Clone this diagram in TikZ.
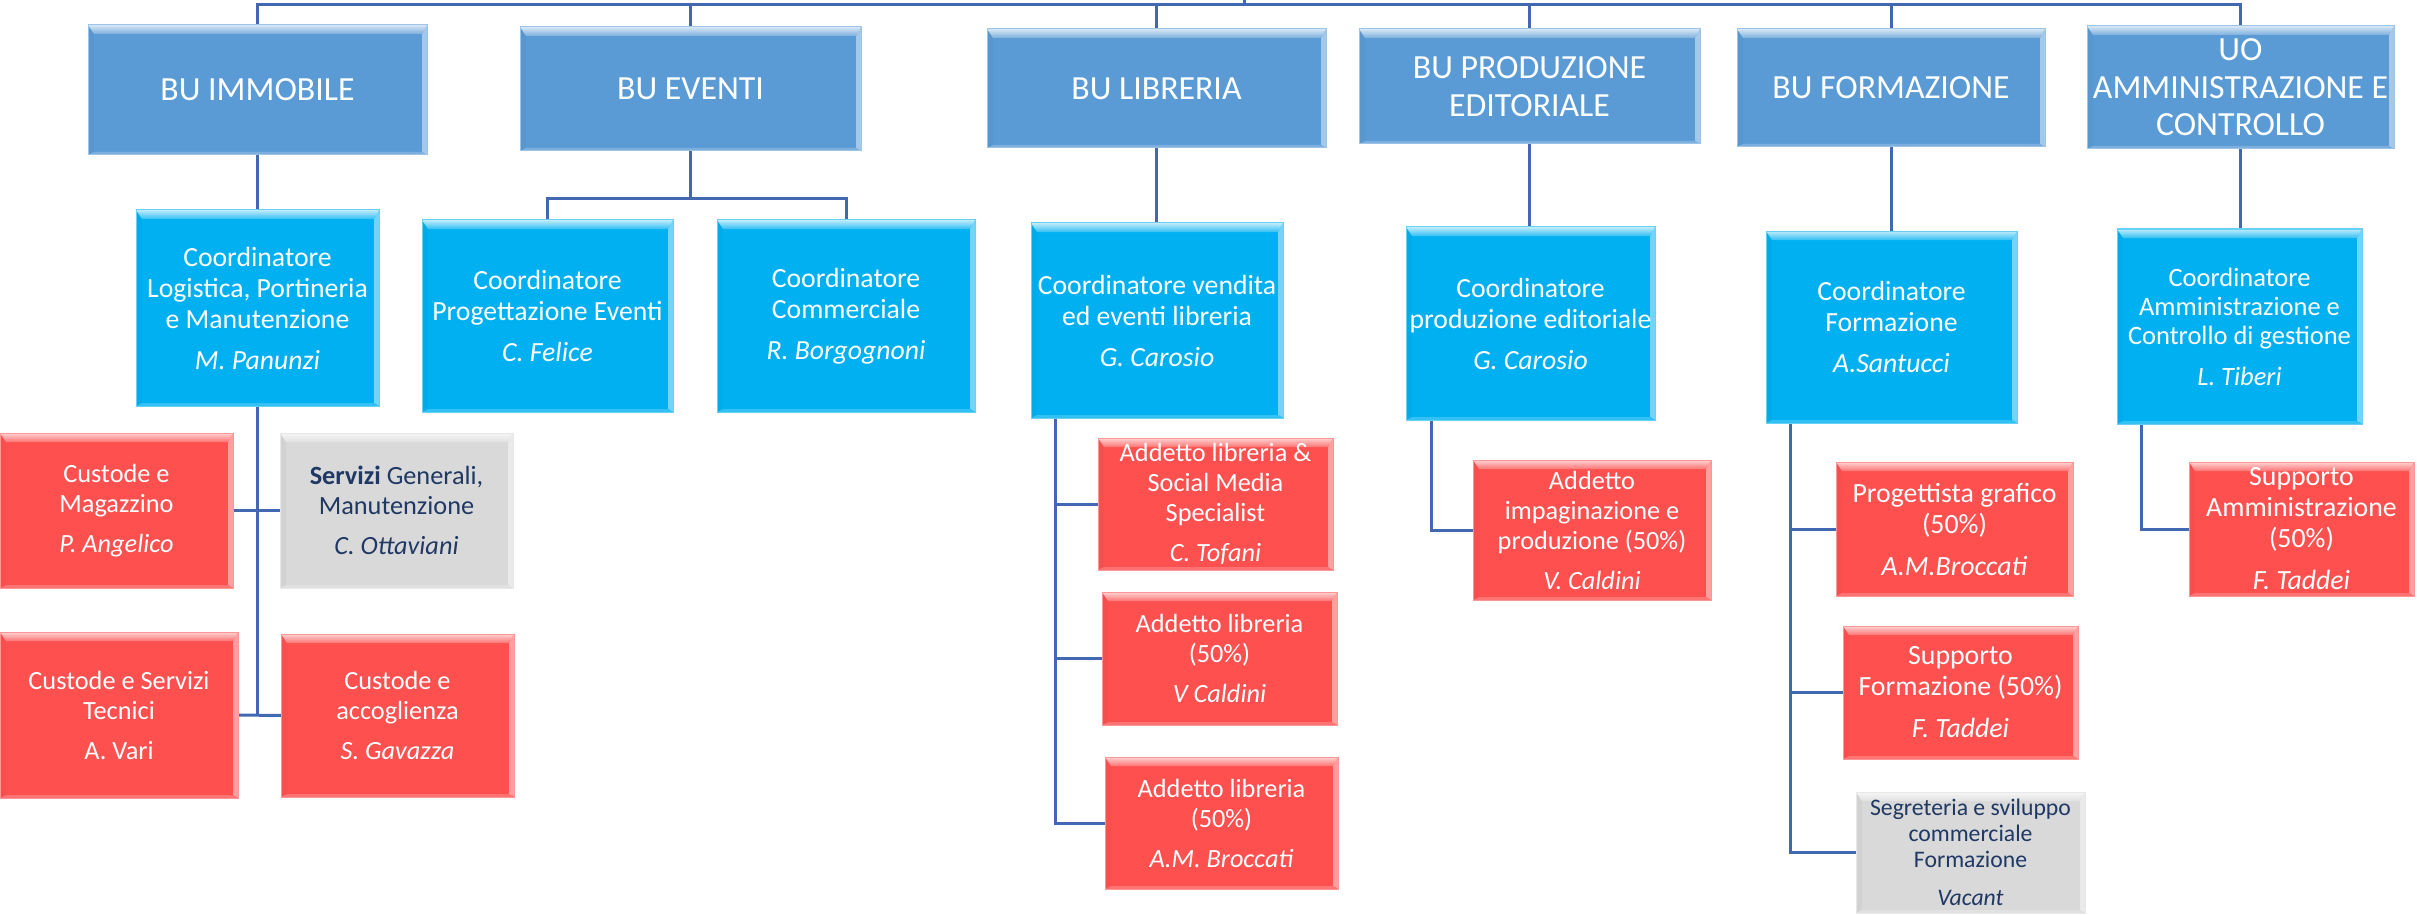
\documentclass[tikz,border=0pt]{standalone}
\usepackage{fontspec}
\setmainfont{Carlito}
\usetikzlibrary{backgrounds}
\definecolor{cBU}{RGB}{91,155,213}
\definecolor{cCO}{RGB}{0,176,240}
\definecolor{cRD}{RGB}{255,80,80}
\definecolor{cGR}{RGB}{217,217,217}
\definecolor{cNV}{RGB}{31,56,100}
\definecolor{cLN}{RGB}{66,104,178}
\tikzset{
  bevel/.style={
    fill=#1, draw=#1!60!white, line width=0.5pt, inner sep=0pt, outer sep=0pt, align=center,
    path picture={
      \coordinate (pA) at (path picture bounding box.south west);
      \coordinate (pB) at (path picture bounding box.north east);
      \coordinate (pTL) at (pA|-pB);
      \coordinate (pBR) at (pB|-pA);
      \fill[#1!97!black] (pA) -- (pTL) -- ([xshift=3pt,yshift=-4.5pt]pTL) -- ([xshift=3pt,yshift=1.5pt]pA) -- cycle;
      \fill[#1!55!white] (pB) -- (pBR) -- ([xshift=-2.5pt,yshift=1.5pt]pBR) -- ([xshift=-2.5pt,yshift=-4.5pt]pB) -- cycle;
      \shade[top color=#1!25!white, bottom color=#1!80!white] (pTL) -- (pB) -- ([xshift=-2.5pt,yshift=-4.5pt]pB) -- ([xshift=3pt,yshift=-4.5pt]pTL) -- cycle;
      \fill[#1!80!white] (pA) -- (pBR) -- ([xshift=-2.5pt,yshift=1.5pt]pBR) -- ([xshift=3pt,yshift=1.5pt]pA) -- cycle;
    }
  },
  bu/.style={bevel=cBU, text=white, font=\fontsize{16.9}{18.75}\selectfont},
  co/.style={bevel=cCO, text=white, font=\fontsize{13.85}{15.5}\selectfont},
  coS/.style={bevel=cCO, text=white, font=\fontsize{13.25}{14.5}\selectfont},
  rd/.style={bevel=cRD, text=white, font=\fontsize{13.15}{15}\selectfont},
  rdL/.style={bevel=cRD, text=white, font=\fontsize{13.9}{15.5}\selectfont},
  gr/.style={bevel=cGR, text=cNV, font=\fontsize{13.15}{15}\selectfont},
  grS/.style={bevel=cGR, text=cNV, font=\fontsize{11.85}{13}\selectfont},
  conn/.style={draw=cLN, line width=1.5pt, line join=miter}
}
\newcommand{\orgbox}[7]{%
  \pgfmathsetmacro{\obx}{(#3+#5)/2}%
  \pgfmathsetmacro{\oby}{(#4+#6)/2}%
  \pgfmathsetmacro{\obw}{(#5-#3)*0.5}%
  \pgfmathsetmacro{\obh}{(#6-#4)*0.5}%
  \node[#2, minimum width=\obw pt, minimum height=\obh pt] (#1) at (\obx,\oby) {#7};%
}
\begin{document}
\begin{tikzpicture}[x=0.5pt,y=-0.5pt]
\useasboundingbox (0,0) rectangle (2417,915);
% level 1
\orgbox{immobile}{bu}{88}{25}{427}{155}{BU IMMOBILE}
\orgbox{eventi}{bu}{520}{27}{861}{151}{BU EVENTI}
\orgbox{libreria}{bu}{987}{29}{1326}{148}{BU LIBRERIA}
\orgbox{produzione}{bu}{1359}{29}{1700}{144}{BU PRODUZIONE\\EDITORIALE}
\orgbox{formazione}{bu}{1737}{29}{2045}{147}{BU FORMAZIONE}
\orgbox{uo}{bu}{2087}{26}{2394}{149}{UO\\AMMINISTRAZIONE E\\CONTROLLO}
% level 2
\orgbox{coordlog}{co}{136}{210}{379}{406}{Coordinatore\\Logistica, Portineria\\e Manutenzione\\[5pt]\textit{M. Panunzi}}
\orgbox{coordprog}{co}{422}{220}{673}{412}{Coordinatore\\Progettazione Eventi\\[5pt]\textit{C. Felice}}
\orgbox{coordcomm}{co}{717}{220}{975}{412}{Coordinatore\\Commerciale\\[5pt]\textit{R. Borgognoni}}
\orgbox{coordvend}{co}{1031}{223}{1283}{418}{Coordinatore vendita\\ed eventi libreria\\[5pt]\textit{G. Carosio}}
\orgbox{coordprod}{co}{1406}{227}{1655}{420}{Coordinatore\\produzione editoriale\\[5pt]\textit{G. Carosio}}
\orgbox{coordform}{co}{1766}{231}{2017}{423}{Coordinatore\\Formazione\\[5pt]\textit{A.Santucci}}
\orgbox{coordamm}{coS}{2117}{229}{2362}{424}{Coordinatore\\Amministrazione e\\Controllo di gestione\\[6pt]\textit{L. Tiberi}}
% level 3
\orgbox{custmag}{rd}{0}{433}{233}{588}{Custode e\\Magazzino\\[5pt]\textit{P. Angelico}}
\orgbox{servizi}{gr}{280}{433}{513}{588}{\textbf{Servizi} Generali,\\Manutenzione\\[5pt]\textit{C. Ottaviani}}
\orgbox{custtec}{rd}{0}{632}{238}{798}{Custode e Servizi\\Tecnici\\[5pt]A. Vari}
\orgbox{custacc}{rd}{281}{634}{514}{797}{Custode e\\accoglienza\\[5pt]\textit{S. Gavazza}}
\orgbox{addsoc}{rd}{1098}{438}{1333}{570}{Addetto libreria \&\\Social Media\\Specialist\\[5pt]\textit{C. Tofani}}
\orgbox{addv}{rd}{1102}{592}{1337}{725}{Addetto libreria\\(50\%)\\[5pt]\textit{V Caldini}}
\orgbox{addam}{rd}{1105}{757}{1338}{889}{Addetto libreria\\(50\%)\\[5pt]\textit{A.M. Broccati}}
\orgbox{impag}{rd}{1473}{460}{1711}{600}{Addetto\\impaginazione e\\produzione (50\%)\\[5pt]\textit{V. Caldini}}
\orgbox{progr}{rdL}{1836}{462}{2073}{596}{Progettista grafico\\(50\%)\\[5.5pt]\textit{A.M.Broccati}}
\orgbox{suppform}{rdL}{1843}{626}{2078}{759}{Supporto\\Formazione (50\%)\\[5.5pt]\textit{F. Taddei}}
\orgbox{segr}{grS}{1856}{792}{2085}{913}{Segreteria e sviluppo\\commerciale\\Formazione\\[6pt]\textit{Vacant}}
\orgbox{suppamm}{rdL}{2189}{462}{2414}{596}{Supporto\\Amministrazione\\(50\%)\\[5.5pt]\textit{F. Taddei}}
% connectors
\coordinate (topy) at (0,5);
\coordinate (parent) at (1244,0);
\coordinate (evy) at (0,199);
\coordinate (lbx) at (1055,0);
\coordinate (pdx) at (1431,0);
\coordinate (fmx) at (1790,0);
\coordinate (amx) at (2141,0);
\begin{scope}[on background layer]
\draw[conn] (immobile.north) -- (immobile.north |- topy) -- (uo.north |- topy) -- (uo.north);
\draw[conn] (parent) -- (parent |- topy);
\foreach \n in {eventi,libreria,produzione,formazione} \draw[conn] (\n.north) -- (\n.north |- topy);
\draw[conn] (immobile.south) -- (immobile.south |- coordlog.north);
\draw[conn] (eventi.south) -- (eventi.south |- evy);
\draw[conn] (coordprog.north) -- (coordprog.north |- evy) -- (coordcomm.north |- evy) -- (coordcomm.north);
\draw[conn] (libreria.south) -- (libreria.south |- coordvend.north);
\draw[conn] (produzione.south) -- (produzione.south |- coordprod.north);
\draw[conn] (formazione.south) -- (formazione.south |- coordform.north);
\draw[conn] (uo.south) -- (uo.south |- coordamm.north);
% immobile staff
\draw[conn] (coordlog.south) -- (coordlog.south |- custacc.west);
\draw[conn] (custmag.east) -- (servizi.west);
\draw[conn] (custtec.east) -- (custacc.west);
% libreria staff
\draw[conn] (coordvend.south -| lbx) |- (addam.west);
\draw[conn] (addsoc.west -| lbx) -- (addsoc.west);
\draw[conn] (addv.west -| lbx) -- (addv.west);
% produzione staff
\draw[conn] (coordprod.south -| pdx) |- (impag.west);
% formazione staff
\draw[conn] (coordform.south -| fmx) |- (segr.west);
\draw[conn] (progr.west -| fmx) -- (progr.west);
\draw[conn] (suppform.west -| fmx) -- (suppform.west);
% amministrazione staff
\draw[conn] (coordamm.south -| amx) |- (suppamm.west);
\end{scope}
\end{tikzpicture}
\end{document}
